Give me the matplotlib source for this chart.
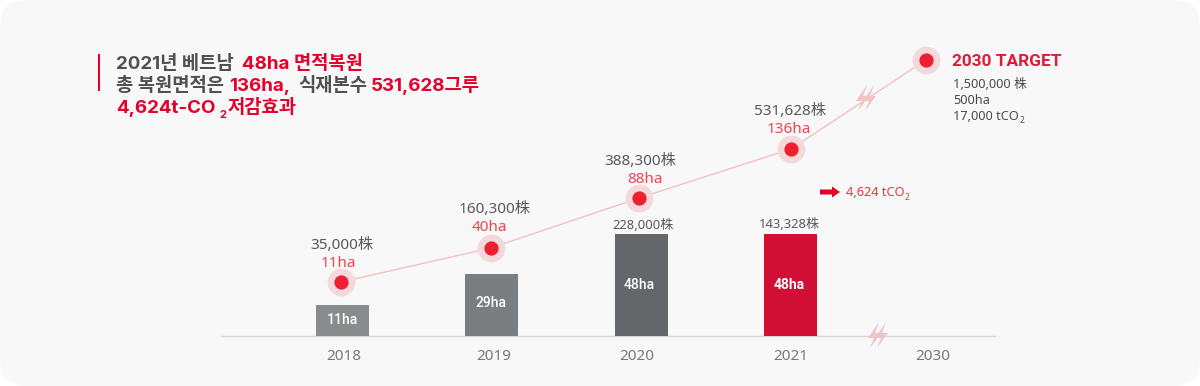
import matplotlib
matplotlib.use('Agg')
import matplotlib.pyplot as plt
from matplotlib.patches import FancyBboxPatch, Polygon, Rectangle

plt.rcParams['font.family'] = ['Noto Sans', 'Noto Sans CJK KR', 'DejaVu Sans']

years = ['2018', '2019', '2020', '2021', '2030']
bar_heights = [31, 62, 102, 102]
bar_labels = ['11ha', '29ha', '48ha', '48ha']
bar_colors = ['#8a8b8d', '#7b7e80', '#65666a', '#d10e33']
line_x = [-0.01, 0.994, 1.986, 3.003, 3.907]
line_heights = [54, 88, 138, 187, 276]
tree_labels = ['35,000株', '160,300株', '388,300株', '531,628株']
area_labels = ['11ha', '40ha', '88ha', '136ha']
new_trees = ['228,000株', '143,328株']

GREY = '#4f5052'
RED = '#e4002b'
DOT = '#ec2030'
STEP = 149.33
X0 = 342.5

fig = plt.figure(figsize=(12, 3.86), dpi=100, facecolor='white')

# background panel
bg = fig.add_axes([0, 0, 1, 1], zorder=0)
bg.set_xlim(0, 1200)
bg.set_ylim(386, 0)
bg.axis('off')
bg.add_patch(FancyBboxPatch((0, 0), 1200, 386, boxstyle='round,pad=0,rounding_size=26',
                            fc='#f8f8f8', ec='none'))

# chart layer: x is the category index, y is height above the baseline
ax = fig.add_axes([0, 0, 1, 1], zorder=1)
ax.set_xlim(-X0 / STEP, (1200 - X0) / STEP)
ax.set_ylim(-50, 336)
ax.axis('off')

ax.plot([(221 - X0) / STEP, (995 - X0) / STEP], [0.5, 0.5], color='#d9d9d9', lw=1, zorder=1)
ax.bar(range(4), bar_heights, width=53 / STEP, color=bar_colors, zorder=2)
ax.plot(line_x, line_heights, color='#f6baba', lw=0.9, zorder=3)
ax.scatter(line_x, line_heights, s=400, color='#f5d9da', linewidths=0, zorder=4)
ax.scatter(line_x, line_heights, s=105, color=DOT, linewidths=0, zorder=5)

# pixel layer for text and small decorations
px = fig.add_axes([0, 0, 1, 1], zorder=2)
px.set_xlim(0, 1200)
px.set_ylim(386, 0)
px.axis('off')


def label(x, y, s, size=11, color=GREY, weight='normal', ha='center', family=None):
    t = px.text(x, y, s, fontsize=size, color=color, fontweight=weight, ha=ha, va='baseline', zorder=6)
    if family:
        t.set_family(family)
    return t


tree_pos = [(342, 249), (495, 213), (640, 165), (790, 115)]
area_pos = [(338, 267), (489, 231), (645, 183), (789, 133)]
for (x, y), s in zip(tree_pos, tree_labels):
    label(x, y, s, color='#58595b')
for (x, y), s in zip(area_pos, area_labels):
    label(x, y, s, color='#ee4450')

for (x, y), s in zip([(643, 229), (789, 228)], new_trees):
    label(x, y, s, size=9.4, color='#58595b')
inside_pos = [(342, 324), (491, 307), (639, 289), (789, 289)]
for i, ((x, y), s) in enumerate(zip(inside_pos, bar_labels)):
    label(x, y, s, size=10, color='white', weight='bold' if i == 3 else 'medium', family='Roboto')
for x, s in zip([344, 494, 637, 791, 933], years):
    label(x, 360, s, size=11, color='#77787a')

# headline, each coloured run starts where it does in the reference
px.add_patch(Rectangle((98, 54), 2, 37, fc=RED, ec='none'))
fam = ['Inter', 'Noto Sans CJK KR']
headline = [
    (116, 69, '2021년 베트남', GREY), (242, 69, '48ha 면적복원', RED),
    (116, 91, '총 복원면적은', GREY), (229, 91, '136ha,', RED),
    (298, 91, '식재본수', GREY), (371, 91, '531,628그루', RED),
    (116, 113, '4,624t-CO', RED), (227, 113, '저감효과', RED),
]
for x, y, s, c in headline:
    px.text(x, y, s, fontsize=13.5, color=c, family=fam, fontweight='bold', va='baseline')
px.text(219, 118, '2', fontsize=8, color=RED, family=fam, fontweight='bold', va='baseline')

renderer = fig.canvas.get_renderer()

# target block
label(952, 66, '2030 TARGET', size=12.4, color='#dc1c3c', weight='bold', ha='left', family='Roboto')
label(953, 88, '1,500,000 株', size=9.2, color='#4a4b4d', ha='left')
label(953, 104, '500ha', size=9.2, color='#4a4b4d', ha='left')
t = label(953, 120, '17,000 tCO', size=9.2, color='#4a4b4d', ha='left')
label(953 + t.get_window_extent(renderer).width + 0.5, 123, '2', size=6, color='#4a4b4d', ha='left')

# saving arrow
px.add_patch(Polygon([(820, 189.5), (832, 189.5), (832, 186.5), (840, 192), (832, 197.5),
                      (832, 194.5), (820, 194.5)], fc=RED, ec='none'))
t = label(846, 196, '4,624 tCO', size=9.2, color='#ee3344', ha='left')
label(846 + t.get_window_extent(renderer).width + 0.5, 200, '2', size=6, color='#ee3344', ha='left')


def bolt(cx, cy, color='#eec4c4'):
    for dx in (-2, 5):
        pts = [(cx + dx + 4, cy - 13), (cx + dx - 7, cy + 3), (cx + dx - 1, cy + 3),
               (cx + dx - 5, cy + 13), (cx + dx + 6, cy - 2), (cx + dx, cy - 2)]
        px.add_patch(Polygon(pts, fc=color, ec='none'))


bolt(865, 98)
bolt(877, 335)

fig.savefig('out.png', dpi=100, facecolor=fig.get_facecolor())
